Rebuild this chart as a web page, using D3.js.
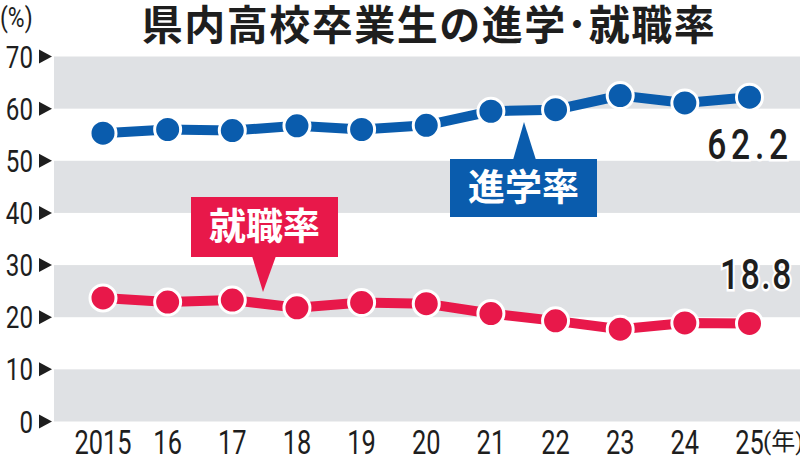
<!DOCTYPE html>
<html>
<head>
<meta charset="utf-8">
<script src="https://cdn.jsdelivr.net/npm/d3@7"></script>
<style>
  body { margin: 0; background: #fff; }
  text { font-family: Roboto, "Noto Sans CJK JP", sans-serif; }
</style>
</head>
<body>
<svg id="chart" width="800" height="459"></svg>
<script>
// data
const years = ['2015', '16', '17', '18', '19', '20', '21', '22', '23', '24', '25'];
const shingaku = [55.3, 56.0, 55.8, 56.7, 56.0, 56.8, 59.5, 59.8, 62.5, 61.1, 62.2];
const shushoku = [23.7, 22.9, 23.3, 21.8, 22.8, 22.6, 20.7, 19.3, 17.7, 18.9, 18.8];
const yTicks = [0, 10, 20, 30, 40, 50, 60, 70];
const bands = [[0, 10], [20, 30], [40, 50], [60, 70]];

const blue = '#0a5cad';
const red = '#e8184a';
const ink = '#1e1e1e';

const svg = d3.select('#chart');
const plotLeft = 54, plotRight = 800, plotTop = 56.5, plotBottom = 421.5;

const x = d3.scalePoint().domain(years).range([103, 749.5]);
const y = d3.scaleLinear().domain([0, 70]).range([plotBottom, plotTop]);

// gray bands
svg.selectAll('rect.band').data(bands).enter().append('rect')
  .attr('class', 'band')
  .attr('x', plotLeft).attr('width', plotRight - plotLeft)
  .attr('y', d => y(d[1])).attr('height', d => y(d[0]) - y(d[1]))
  .attr('fill', '#dfe1e4');

// y axis labels + triangles
const yg = svg.append('g');
yg.selectAll('text').data(yTicks).enter().append('text')
  .attr('transform', d => `translate(33,${y(d) + 11}) scale(0.78,1)`)
  .attr('text-anchor', 'end')
  .attr('font-size', 31)
  .attr('fill', ink)
  .text(d => d);
yg.selectAll('path').data(yTicks).enter().append('path')
  .attr('d', d => `M39,${y(d) - 7}L52,${y(d)}L39,${y(d) + 7}Z`)
  .attr('fill', ink);

svg.append('text')
  .attr('transform', 'translate(0,27) scale(0.85,1)')
  .attr('font-size', 27).attr('fill', ink)
  .text('(%)');

// x axis labels
svg.append('g').selectAll('text').data(years).enter().append('text')
  .attr('transform', d => `translate(${x(d)},454) scale(0.77,1)`)
  .attr('text-anchor', 'middle')
  .attr('font-size', 33)
  .attr('fill', ink)
  .text(d => d);
svg.append('text')
  .attr('x', 763).attr('y', 450)
  .attr('font-size', 24).attr('fill', ink)
  .text('(年)');

// title (half-width middle dot)
svg.append('text')
  .attr('x', 429).attr('y', 40)
  .attr('text-anchor', 'middle')
  .attr('font-size', 41).attr('font-weight', 'bold')
  .attr('letter-spacing', 1.5)
  .attr('fill', ink)
  .text('県内高校卒業生の進学･就職率');

// callout boxes
function callout(bx, by, bw, bh, tip, color, label) {
  const g = svg.append('g');
  g.append('rect').attr('x', bx).attr('y', by).attr('width', bw).attr('height', bh).attr('fill', color);
  g.append('path').attr('d', `M${tip[1]},${tip[2]}L${tip[0][0]},${tip[0][1]}L${tip[3]},${tip[2]}Z`).attr('fill', color);
  g.append('text')
    .attr('x', bx + bw / 2).attr('y', by + bh / 2 + 13)
    .attr('text-anchor', 'middle')
    .attr('font-size', 37).attr('font-weight', 'bold')
    .attr('fill', '#fff')
    .text(label);
}

// lines + dots
function series(vals, color) {
  const line = d3.line().x((d, i) => x(years[i])).y(d => y(d));
  svg.append('path').datum(vals)
    .attr('d', line)
    .attr('fill', 'none')
    .attr('stroke', color)
    .attr('stroke-width', 10);
  svg.append('g').selectAll('circle').data(vals).enter().append('circle')
    .attr('cx', (d, i) => x(years[i]))
    .attr('cy', d => y(d))
    .attr('r', 13)
    .attr('fill', color)
    .attr('stroke', '#fff')
    .attr('stroke-width', 3);
}

callout(450, 159, 147, 58, [[524, 122], 513, 160, 536], blue, '進学率');
callout(191, 197, 147, 60, [[263, 292], 252, 256, 276], red, '就職率');

series(shingaku, blue);
series(shushoku, red);

// end labels
function endLabel(v, ty, sp) {
  svg.append('text')
    .attr('transform', `translate(793,${ty}) scale(0.8,1)`)
    .attr('text-anchor', 'end')
    .attr('font-size', 42).attr('font-weight', 500)
    .attr('letter-spacing', sp)
    .attr('fill', ink)
    .attr('stroke', '#fff').attr('stroke-width', 5).attr('paint-order', 'stroke')
    .text(v);
}
endLabel(shingaku[shingaku.length - 1].toFixed(1), 159, 6);
endLabel(shushoku[shushoku.length - 1].toFixed(1), 289, 2);
</script>
</body>
</html>
